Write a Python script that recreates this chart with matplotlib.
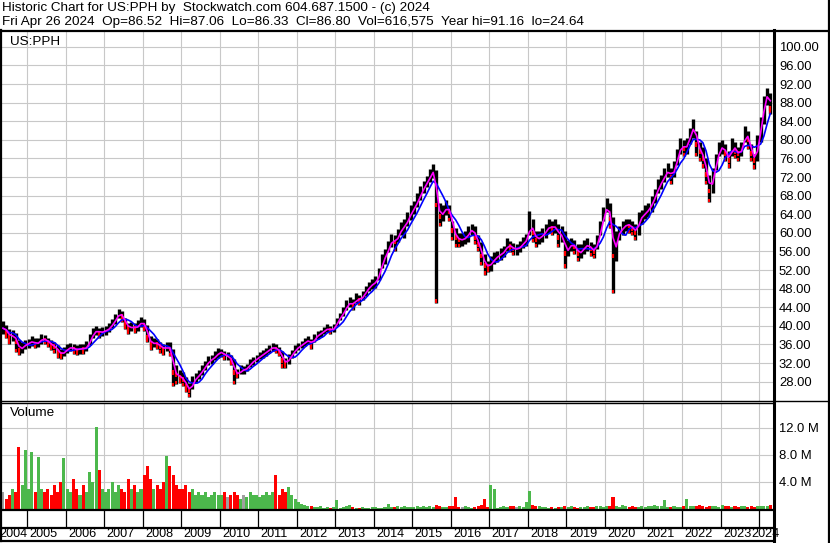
import matplotlib
matplotlib.use('Agg')
import matplotlib.pyplot as plt
import numpy as np
import pandas as pd

plt.rcParams['font.family'] = ['Liberation Sans', 'DejaVu Sans']

# ---------------- data (monthly, May 2004 .. Apr 2024) ----------------
start_month = '2004-05-01'
close = [39.5, 38.8, 37.5, 38.2, 36.5, 34.8, 35.5, 36.0,
         36.3, 36.8, 36.0, 36.5, 37.3, 37.0, 36.5, 35.8, 35.5, 34.5, 33.8, 34.5,
         35.0, 35.5, 35.0, 34.8, 35.2, 35.0, 35.5, 37.0, 38.5, 39.0, 38.5, 38.8,
         39.0, 39.5, 40.5, 41.5, 42.8, 42.0, 40.5, 39.5, 39.8, 39.5, 40.0, 41.0,
         40.0, 37.5, 36.0, 36.5, 36.0, 35.5, 35.0, 35.5, 35.0, 30.0, 29.5, 29.0,
         28.5, 27.0, 26.0, 28.0, 28.8, 29.5, 30.5, 31.5, 32.5, 32.8, 33.5, 34.2,
         34.4, 33.5, 33.5, 32.5, 30.0, 29.5, 30.5, 30.5, 31.0, 32.0, 32.5, 33.0,
         33.5, 34.0, 34.5, 35.0, 35.5, 35.0, 34.5, 32.5, 32.0, 33.0, 34.0, 35.0,
         35.5, 36.0, 36.5, 37.0, 36.0, 37.5, 38.0, 38.5, 39.0, 39.5, 39.0, 39.5,
         41.0, 42.0, 43.0, 44.5, 45.0, 44.5, 46.0, 45.5, 46.5, 47.5, 48.5, 49.0,
         49.5, 51.0, 54.0, 55.0, 57.0, 58.5, 58.0, 59.5, 61.0, 61.5, 63.0, 64.5,
         65.5, 67.0, 68.5, 70.0, 71.0, 72.5, 73.5, 66.0, 63.5, 64.5, 65.5, 64.5,
         60.5, 59.0, 58.5, 58.5, 59.0, 60.0, 61.0, 59.0, 57.5, 55.0, 53.0, 52.8,
         53.5, 54.5, 55.0, 55.5, 56.0, 57.5, 57.0, 56.5, 56.5, 57.0, 58.0, 58.5,
         62.0, 60.0, 58.5, 59.0, 59.5, 60.5, 61.5, 61.0, 61.5, 59.0, 60.0, 55.5,
         57.0, 57.5, 57.0, 55.5, 56.0, 57.0, 57.5, 56.5, 56.0, 58.0, 61.0, 64.0,
         66.0, 63.0, 55.0, 59.0, 60.5, 61.0, 62.0, 61.5, 61.0, 60.0, 63.0, 63.5,
         64.5, 65.0, 66.5, 68.0, 70.0, 71.0, 72.5, 73.5, 72.0, 74.0, 76.5, 79.0,
         78.0, 79.0, 81.5, 83.0, 79.0, 77.5, 76.0, 72.5, 69.0, 72.0, 75.5, 78.0,
         78.5, 77.0, 75.5, 79.0, 77.5, 77.0, 78.0, 81.5, 80.0, 77.0, 75.5, 79.5,
         83.5, 88.5, 90.0, 86.8]
high = [41.0, 40.2, 39.3, 39.2, 38.4, 37.0, 36.5, 37.0,
        37.2, 37.8, 37.5, 37.4, 38.2, 38.0, 37.4, 36.9, 36.5, 35.8, 35.0, 35.4,
        36.0, 36.4, 36.2, 35.8, 36.2, 36.0, 36.8, 38.2, 39.5, 40.0, 39.5, 39.8,
        40.0, 40.6, 41.5, 42.5, 43.6, 43.2, 41.8, 40.6, 40.8, 40.6, 41.2, 42.0,
        41.5, 40.2, 37.8, 37.5, 37.2, 36.6, 36.2, 36.5, 36.5, 35.0, 31.5, 30.5,
        30.0, 29.0, 27.8, 29.2, 29.8, 30.5, 31.5, 32.5, 33.5, 33.8, 34.5, 35.2,
        35.0, 34.6, 34.4, 33.8, 32.8, 30.8, 31.5, 31.4, 31.8, 32.8, 33.4, 33.8,
        34.3, 34.8, 35.3, 35.8, 36.4, 36.0, 35.4, 34.6, 33.0, 34.0, 34.8, 35.8,
        36.3, 36.8, 37.3, 37.8, 37.2, 38.3, 38.8, 39.2, 39.8, 40.4, 40.0, 40.3,
        41.8, 42.8, 44.0, 45.5, 46.2, 45.8, 47.0, 46.6, 47.5, 48.5, 49.5, 50.0,
        50.8, 52.5, 55.5, 56.5, 58.2, 59.8, 59.5, 60.8, 62.4, 63.0, 64.5, 66.0,
        66.8, 68.5, 70.0, 71.2, 72.2, 73.8, 74.8, 73.5, 66.5, 66.0, 67.0, 66.0,
        62.5, 61.0, 60.0, 60.0, 60.5, 61.5, 62.0, 61.5, 59.5, 58.0, 55.5, 54.0,
        55.0, 55.8, 56.2, 56.8, 57.2, 58.8, 58.2, 57.8, 57.5, 58.2, 59.2, 59.8,
        64.8, 63.0, 60.5, 60.5, 61.0, 62.0, 63.0, 62.5, 63.0, 62.0, 61.5, 60.5,
        58.5, 59.0, 58.5, 57.5, 57.5, 58.5, 59.0, 58.0, 57.5, 59.5, 62.5, 65.5,
        67.5, 66.5, 63.5, 60.5, 61.5, 62.5, 63.0, 63.0, 62.5, 62.0, 64.5, 65.0,
        66.0, 66.5, 68.0, 69.5, 71.5, 72.5, 74.0, 75.0, 74.0, 75.5, 78.0, 80.5,
        80.0, 80.5, 82.5, 84.5, 82.0, 79.5, 78.5, 76.0, 72.5, 74.0, 77.0, 79.5,
        80.0, 79.0, 77.5, 80.5, 79.5, 78.5, 79.5, 83.0, 82.0, 79.0, 77.0, 81.0,
        85.0, 89.5, 91.16, 90.0]
low = [38.3, 37.5, 36.2, 36.8, 34.3, 33.8, 34.2, 35.0,
       35.2, 35.6, 35.3, 35.4, 36.2, 36.0, 35.5, 34.8, 34.2, 33.2, 32.8, 33.6,
       34.2, 34.6, 34.0, 33.8, 34.0, 34.0, 34.6, 35.8, 37.4, 38.0, 37.5, 37.8,
       38.0, 38.6, 39.5, 40.4, 41.6, 40.8, 39.4, 38.2, 38.8, 38.5, 39.0, 39.8,
       38.8, 36.5, 34.8, 35.4, 35.0, 34.2, 33.8, 34.5, 33.5, 27.0, 27.5, 27.8,
       27.0, 25.8, 24.64, 26.5, 27.8, 28.6, 29.5, 30.6, 31.5, 31.8, 32.6, 33.2,
       33.3, 32.6, 32.6, 31.5, 27.5, 28.8, 29.6, 29.6, 30.2, 31.2, 31.6, 32.2,
       32.8, 33.2, 33.6, 34.2, 34.6, 34.2, 33.6, 31.0, 31.0, 31.8, 33.2, 34.2,
       34.8, 35.2, 35.7, 36.2, 35.0, 36.6, 37.2, 37.7, 38.2, 38.6, 38.2, 38.6,
       40.0, 41.2, 42.2, 43.5, 44.0, 43.4, 45.0, 44.5, 45.5, 46.5, 47.5, 48.0,
       48.2, 49.8, 52.5, 53.2, 55.8, 57.0, 56.0, 58.0, 59.5, 59.0, 61.5, 62.8,
       64.0, 65.5, 67.0, 68.6, 69.8, 71.0, 71.8, 45.0, 61.5, 62.5, 63.8, 62.5,
       58.5, 57.0, 57.0, 57.2, 57.5, 58.0, 59.5, 57.5, 56.0, 53.0, 51.0, 51.5,
       51.8, 53.2, 53.8, 54.2, 54.8, 56.0, 55.8, 55.2, 55.2, 55.8, 56.8, 57.2,
       59.5, 58.0, 57.0, 57.5, 58.0, 59.0, 60.0, 59.5, 60.0, 57.0, 58.0, 52.5,
       55.0, 56.0, 55.5, 54.0, 54.5, 55.5, 56.0, 55.0, 54.5, 56.5, 59.5, 62.5,
       64.5, 61.0, 47.0, 54.0, 58.5, 59.5, 60.5, 60.0, 59.5, 58.5, 59.5, 62.0,
       63.0, 63.5, 64.5, 66.5, 68.5, 69.5, 71.0, 72.0, 70.5, 72.0, 74.5, 77.0,
       76.5, 77.0, 79.0, 80.5, 76.5, 75.5, 74.0, 70.5, 66.6, 68.5, 73.5, 76.5,
       77.0, 75.5, 74.0, 76.5, 76.0, 75.5, 76.5, 79.5, 78.0, 75.5, 73.8, 75.5,
       79.5, 83.5, 87.5, 85.5]
volume_m = [2.5, 1.5, 2.0, 3.0, 2.5, 9.2, 3.5, 8.7,
            3.0, 8.5, 2.5, 7.7, 3.0, 2.5, 3.0, 2.0, 3.5, 2.5, 4.0, 7.5,
            3.0, 2.5, 4.5, 3.0, 2.0, 3.5, 2.5, 5.5, 4.0, 12.2, 5.8, 3.0,
            2.5, 3.0, 4.0, 2.5, 3.5, 3.0, 2.5, 4.5, 3.0, 3.5, 2.5, 3.0,
            5.0, 6.3, 4.5, 3.0, 3.5, 3.0, 4.0, 7.9, 6.3, 5.0, 3.5, 3.0,
            3.0, 3.5, 2.5, 3.0, 2.0, 2.5, 2.0, 2.5, 1.8, 2.0, 2.5, 2.0,
            2.0, 2.5, 1.8, 2.0, 2.5, 2.0, 1.5, 2.0, 1.8, 2.5, 2.0, 2.0,
            1.8, 2.0, 2.5, 2.0, 2.5, 5.0, 2.0, 3.0, 2.5, 3.2, 2.0, 1.5,
            1.0, 0.8, 0.6, 0.5, 0.4, 0.3, 0.3, 0.4, 0.2, 0.3, 0.2, 0.3,
            1.3, 0.2, 0.3, 0.5, 0.6, 0.3, 0.2, 0.2, 0.3, 0.2, 0.2, 0.3,
            0.3, 0.2, 0.2, 0.3, 0.7, 0.3, 0.3, 0.5, 0.3, 0.4, 0.3, 0.3,
            0.3, 0.4, 0.3, 0.4, 0.3, 0.4, 0.3, 0.6, 0.4, 0.3, 0.3, 0.4,
            0.5, 1.8, 0.3, 0.3, 0.4, 0.3, 0.2, 0.3, 0.4, 0.6, 1.5, 0.3,
            3.5, 3.0, 0.2, 0.3, 0.4, 0.3, 0.4, 0.4, 0.3, 0.4, 0.3, 1.0,
            2.7, 0.6, 0.4, 0.4, 0.3, 0.3, 0.2, 0.3, 0.2, 0.3, 0.3, 0.4,
            0.3, 0.4, 0.3, 0.2, 0.3, 0.3, 0.4, 0.3, 0.3, 0.5, 0.4, 0.3,
            0.4, 0.5, 1.8, 0.4, 0.3, 0.6, 0.4, 0.3, 0.4, 0.3, 0.3, 0.4,
            0.3, 0.5, 0.4, 0.6, 0.5, 0.5, 1.3, 0.3, 0.3, 0.4, 0.3, 0.3,
            0.4, 1.5, 0.4, 0.5, 0.4, 0.6, 0.5, 0.3, 0.4, 0.5, 0.4, 0.3,
            0.6, 0.5, 0.4, 0.3, 0.4, 0.3, 0.4, 0.5, 0.3, 0.4, 0.3, 0.4,
            0.4, 0.5, 0.4, 0.6]

price_ticks = list(range(28, 101, 4))
volume_ticks = [4, 8, 12]
year_labels = list(range(2004, 2025))

title_line1 = "Historic Chart for US:PPH by  Stockwatch.com 604.687.1500 - (c) 2024"
title_line2 = "Fri Apr 26 2024  Op=86.52  Hi=87.06  Lo=86.33  Cl=86.80  Vol=616,575  Year hi=91.16  lo=24.64"
symbol = "US:PPH"

# ---------------- derived ----------------
months = pd.date_range(start_month, periods=len(close), freq='MS')
t = np.array([d.year + (d.month - 1) / 12 + 0.5 / 12 for d in months])
s_close = pd.Series(close)
ma_fast = s_close.rolling(2, min_periods=1).mean()
ma_slow = s_close.rolling(5, min_periods=1).mean()
chg = s_close.diff().fillna(0)
vol_colors = ['#4CB84C' if c > 0 else ('#FF0000' if c < 0 else '#A0A0A0') for c in chg]

W, H = 830, 543
fig = plt.figure(figsize=(W / 100, H / 100), dpi=100, facecolor='white')

def rect(x0, y0, x1, y1):
    return [x0 / W, 1 - y1 / H, (x1 - x0) / W, (y1 - y0) / H]

X0, X1 = 2, 773
px_per_year = 38.53
tmin = 2005 + (X0 - 27) / px_per_year
tmax = 2005 + (X1 - 27) / px_per_year

grid_c = '#C8C8C8'
FS_TICK = 9.4
FS_TXT = 9.7
FS_YEAR = 9.1

# price panel
axp = fig.add_axes(rect(X0, 31, X1, 401))
axp.set_xlim(tmin, tmax)
axp.set_ylim(23.85, 103.4)
axp.set_xticks(range(2005, 2025))
axp.set_yticks(price_ticks)
axp.grid(True, color=grid_c, lw=0.8)
axp.set_axisbelow(True)
axp.tick_params(axis='x', length=0, labelbottom=False)
axp.yaxis.tick_right()
axp.tick_params(axis='y', length=0, pad=4.3, labelsize=FS_TICK)
axp.set_yticklabels([f"{v:.2f}" for v in price_ticks])
for sp in axp.spines.values():
    sp.set_visible(False)
axp.vlines(t, low, high, color='black', lw=2.4, zorder=2)
c_arr = np.array(close)
l_arr = np.array(low)
down = chg.values < 0
axp.vlines(t[down], c_arr[down] - 0.5, c_arr[down] + 0.5,
           color='#FF0000', lw=1.6, zorder=3)
axp.vlines(t[down], l_arr[down], l_arr[down] + 0.7,
           color='#FF0000', lw=1.4, zorder=3)
axp.plot(t, ma_slow, color='#0000FF', lw=1.2, zorder=4)
axp.plot(t, ma_fast, color='#FF00FF', lw=1.2, zorder=5)
axp.text(8 / 771, 1 - 11 / 370, symbol, transform=axp.transAxes, fontsize=FS_TXT,
         va='center', ha='left')

# volume panel
axv = fig.add_axes(rect(X0, 403, X1, 509))
axv.set_xlim(tmin, tmax)
axv.set_ylim(0, 15.7)
axv.set_xticks(range(2005, 2025))
axv.set_yticks(volume_ticks)
axv.grid(True, color=grid_c, lw=0.8)
axv.set_axisbelow(True)
axv.tick_params(axis='x', length=0, labelbottom=False)
axv.yaxis.tick_right()
axv.tick_params(axis='y', length=0, pad=4.3, labelsize=FS_TICK)
axv.set_yticklabels([f"{v:.1f} M" for v in volume_ticks])
for sp in axv.spines.values():
    sp.set_visible(False)
axv.bar(t, volume_m, width=0.95 / 12, color=vol_colors, linewidth=0, zorder=2)
axv.text(8 / 771, 1 - 10 / 106, "Volume", transform=axv.transAxes, fontsize=FS_TXT,
         va='center', ha='left')

# date strip
axd = fig.add_axes(rect(X0, 509, X1, 541))
axd.set_xlim(tmin, tmax)
axd.set_ylim(32, 0)
axd.axis('off')
axd.vlines(range(2005, 2025), 0, 18, color='black', lw=0.9)
off = 2.5 / px_per_year
lbl_w = 28.5 / px_per_year
for yr in year_labels:
    if yr == year_labels[0]:
        xpos = tmin - 3 / px_per_year
    elif yr == year_labels[-1]:
        xpos = yr - 1 + off + lbl_w
    else:
        xpos = yr + off
    axd.text(xpos, 25, str(yr), fontsize=FS_YEAR, va='center', ha='left', clip_on=False)

# frame overlay
axo = fig.add_axes([0, 0, 1, 1], zorder=10)
axo.set_xlim(0, W)
axo.set_ylim(H, 0)
axo.axis('off')
axo.patch.set_alpha(0)
k = 'black'
axo.plot([0, 829], [30.5, 30.5], color=k, lw=1.6)
axo.plot([0.8, 0.8], [30, 541], color=k, lw=1.6)
axo.plot([773.5, 773.5], [30, 543], color=k, lw=2.2)
axo.plot([828.5, 828.5], [0, 543], color=k, lw=1.6)
axo.plot([0, 829], [400.5, 400.5], color=k, lw=1.0)
axo.plot([0, 773], [403.0, 403.0], color=k, lw=1.0)
axo.plot([0, 773], [509.5, 509.5], color=k, lw=1.6)
axo.plot([0, 773], [527.5, 527.5], color=k, lw=1.6)
axo.plot([0, 773], [540.8, 540.8], color=k, lw=1.6)

fig.text(2 / W, 1 - 7.5 / H, title_line1, fontsize=FS_TXT, va='center', ha='left')
fig.text(2 / W, 1 - 21.5 / H, title_line2, fontsize=FS_TXT, va='center', ha='left')

fig.savefig('out.png', dpi=100, facecolor='white')
